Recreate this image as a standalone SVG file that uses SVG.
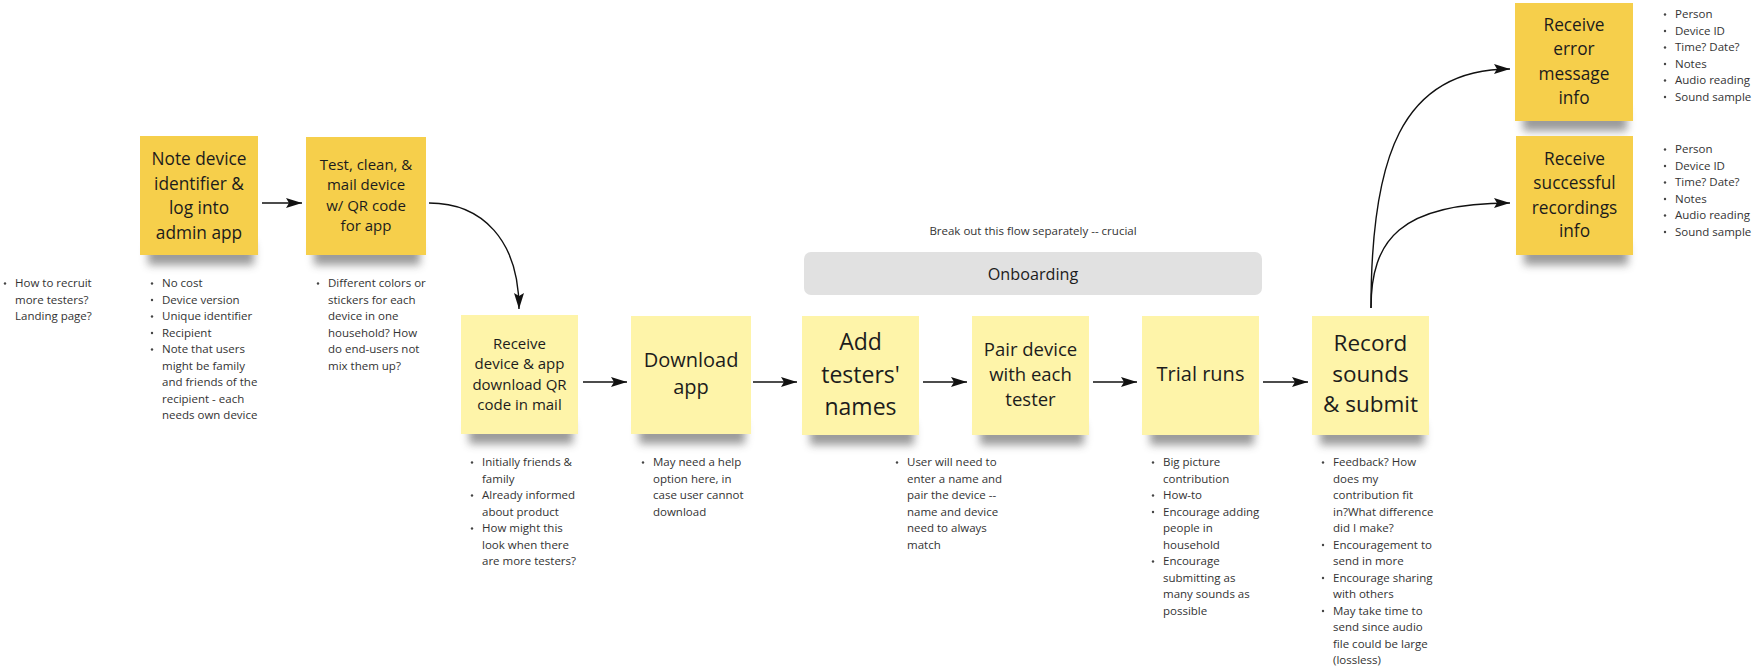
<svg xmlns="http://www.w3.org/2000/svg" width="1756" height="668" viewBox="0 0 1756 668">
<defs>
<style>
.sd{fill:#f6cf4b}
.sl{fill:#fef4a9}
.sh{fill:#4a4a4a;opacity:0.55;filter:url(#blur)}
.st{font-family:"Open Sans","Noto Sans",sans-serif;fill:#1c1c1c;text-anchor:middle}
.bt{font-family:"Open Sans","Noto Sans",sans-serif;font-size:11.5px;fill:#333}
.bd{fill:#444}
.cn{fill:none;stroke:#111;stroke-width:1.4;marker-end:url(#ah)}
</style>
<filter id="blur" x="-20%" y="-50%" width="140%" height="200%"><feGaussianBlur stdDeviation="4"/></filter>
<marker id="ah" markerUnits="userSpaceOnUse" markerWidth="17" markerHeight="10" refX="16" refY="5" orient="auto">
<path d="M0,0 L16,5 L0,10 L3,5 Z" fill="#111"/>
</marker>
</defs>
<rect width="1756" height="668" fill="#ffffff"/>

<g id="connectors">
<path class="cn" d="M262,203 L302,203"/>
<path class="cn" d="M429,203 C482,203 519,240 519,309"/>
<path class="cn" d="M583,382 L627,382"/>
<path class="cn" d="M753,382 L797,382"/>
<path class="cn" d="M923,382 L967,382"/>
<path class="cn" d="M1093,382 L1137,382"/>
<path class="cn" d="M1263,382 L1308,382"/>
<path class="cn" d="M1371,308 C1371,160 1400,69 1510,69"/>
<path class="cn" d="M1371,308 C1371,240 1400,203 1510,203"/>
</g>

<g id="note-recruit">
<circle class="bd" cx="5" cy="283.5" r="1.2"/>
<text class="bt"><tspan x="15" y="287">How to recruit</tspan><tspan x="15" y="303.5">more testers?</tspan><tspan x="15" y="320">Landing page?</tspan></text>
</g>

<g id="node-note-device">
<rect class="sh" x="148" y="243" width="106" height="22"/>
<rect class="sd" x="140" y="136" width="118" height="119"/>
<text class="st" font-size="17.3"><tspan x="199" y="165">Note device</tspan><tspan x="199" y="189.5">identifier &amp;</tspan><tspan x="199" y="214">log into</tspan><tspan x="199" y="238.5">admin app</tspan></text>
<g class="bullets">
<circle class="bd" cx="152" cy="462.5" r="1.2" transform="translate(0,-179)"/>
<circle class="bd" cx="152" cy="300" r="1.2"/>
<circle class="bd" cx="152" cy="316.5" r="1.2"/>
<circle class="bd" cx="152" cy="333" r="1.2"/>
<circle class="bd" cx="152" cy="349.5" r="1.2"/>
<text class="bt"><tspan x="162" y="287">No cost</tspan><tspan x="162" y="303.5">Device version</tspan><tspan x="162" y="320">Unique identifier</tspan><tspan x="162" y="336.5">Recipient</tspan><tspan x="162" y="353">Note that users</tspan><tspan x="162" y="369.5">might be family</tspan><tspan x="162" y="386">and friends of the</tspan><tspan x="162" y="402.5">recipient - each</tspan><tspan x="162" y="419">needs own device</tspan></text>
</g>
</g>

<g id="node-test-clean">
<rect class="sh" x="314" y="243" width="106" height="22"/>
<rect class="sd" x="306" y="137" width="120" height="118"/>
<text class="st" font-size="15"><tspan x="366" y="169.5">Test, clean, &amp;</tspan><tspan x="366" y="190">mail device</tspan><tspan x="366" y="210.5">w/ QR code</tspan><tspan x="366" y="231">for app</tspan></text>
<circle class="bd" cx="318" cy="283.5" r="1.2"/>
<text class="bt"><tspan x="328" y="287">Different colors or</tspan><tspan x="328" y="303.5">stickers for each</tspan><tspan x="328" y="320">device in one</tspan><tspan x="328" y="336.5">household? How</tspan><tspan x="328" y="353">do end-users not</tspan><tspan x="328" y="369.5">mix them up?</tspan></text>
</g>

<g id="node-receive-device">
<rect class="sh" x="469" y="422" width="104" height="22"/>
<rect class="sl" x="461" y="315" width="117" height="119"/>
<text class="st" font-size="15"><tspan x="519.5" y="348.5">Receive</tspan><tspan x="519.5" y="369">device &amp; app</tspan><tspan x="519.5" y="389.5">download QR</tspan><tspan x="519.5" y="410">code in mail</tspan></text>
<circle class="bd" cx="472" cy="462.5" r="1.2"/>
<circle class="bd" cx="472" cy="495.5" r="1.2"/>
<circle class="bd" cx="472" cy="528.5" r="1.2"/>
<text class="bt"><tspan x="482" y="466">Initially friends &amp;</tspan><tspan x="482" y="482.5">family</tspan><tspan x="482" y="499">Already informed</tspan><tspan x="482" y="515.5">about product</tspan><tspan x="482" y="532">How might this</tspan><tspan x="482" y="548.5">look when there</tspan><tspan x="482" y="565">are more testers?</tspan></text>
</g>

<g id="node-download-app">
<rect class="sh" x="639" y="422" width="106" height="22"/>
<rect class="sl" x="631" y="316" width="120" height="118"/>
<text class="st" font-size="20"><tspan x="691" y="367">Download</tspan><tspan x="691" y="394">app</tspan></text>
<circle class="bd" cx="643" cy="462.5" r="1.2"/>
<text class="bt"><tspan x="653" y="466">May need a help</tspan><tspan x="653" y="482.5">option here, in</tspan><tspan x="653" y="499">case user cannot</tspan><tspan x="653" y="515.5">download</tspan></text>
</g>

<g id="node-add-testers">
<rect class="sh" x="810" y="423" width="104" height="22"/>
<rect class="sl" x="802" y="316" width="117" height="119"/>
<text class="st" font-size="23"><tspan x="860.5" y="350">Add</tspan><tspan x="860.5" y="382.5">testers'</tspan><tspan x="860.5" y="415">names</tspan></text>
<circle class="bd" cx="897" cy="462.5" r="1.2"/>
<text class="bt"><tspan x="907" y="466">User will need to</tspan><tspan x="907" y="482.5">enter a name and</tspan><tspan x="907" y="499">pair the device --</tspan><tspan x="907" y="515.5">name and device</tspan><tspan x="907" y="532">need to always</tspan><tspan x="907" y="548.5">match</tspan></text>
</g>

<g id="node-pair-device">
<rect class="sh" x="980" y="423" width="104" height="22"/>
<rect class="sl" x="972" y="316" width="117" height="119"/>
<text class="st" font-size="18.5"><tspan x="1030.5" y="355.5">Pair device</tspan><tspan x="1030.5" y="380.5">with each</tspan><tspan x="1030.5" y="405.5">tester</tspan></text>
</g>

<g id="node-trial-runs">
<rect class="sh" x="1150" y="423" width="104" height="22"/>
<rect class="sl" x="1142" y="316" width="117" height="119"/>
<text class="st" font-size="20"><tspan x="1200.5" y="381">Trial runs</tspan></text>
<circle class="bd" cx="1153" cy="462.5" r="1.2"/>
<circle class="bd" cx="1153" cy="495.5" r="1.2"/>
<circle class="bd" cx="1153" cy="512" r="1.2"/>
<circle class="bd" cx="1153" cy="561.5" r="1.2"/>
<text class="bt"><tspan x="1163" y="466">Big picture</tspan><tspan x="1163" y="482.5">contribution</tspan><tspan x="1163" y="499">How-to</tspan><tspan x="1163" y="515.5">Encourage adding</tspan><tspan x="1163" y="532">people in</tspan><tspan x="1163" y="548.5">household</tspan><tspan x="1163" y="565">Encourage</tspan><tspan x="1163" y="581.5">submitting as</tspan><tspan x="1163" y="598">many sounds as</tspan><tspan x="1163" y="614.5">possible</tspan></text>
</g>

<g id="node-record-sounds">
<rect class="sh" x="1320" y="423" width="104" height="22"/>
<rect class="sl" x="1312" y="316" width="117" height="119"/>
<text class="st" font-size="22.5"><tspan x="1370.5" y="351">Record</tspan><tspan x="1370.5" y="381.5">sounds</tspan><tspan x="1370.5" y="412">&amp; submit</tspan></text>
<circle class="bd" cx="1323" cy="462.5" r="1.2"/>
<circle class="bd" cx="1323" cy="545" r="1.2"/>
<circle class="bd" cx="1323" cy="578" r="1.2"/>
<circle class="bd" cx="1323" cy="611" r="1.2"/>
<text class="bt"><tspan x="1333" y="466">Feedback? How</tspan><tspan x="1333" y="482.5">does my</tspan><tspan x="1333" y="499">contribution fit</tspan><tspan x="1333" y="515.5">in?What difference</tspan><tspan x="1333" y="532">did I make?</tspan><tspan x="1333" y="548.5">Encouragement to</tspan><tspan x="1333" y="565">send in more</tspan><tspan x="1333" y="581.5">Encourage sharing</tspan><tspan x="1333" y="598">with others</tspan><tspan x="1333" y="614.5">May take time to</tspan><tspan x="1333" y="631">send since audio</tspan><tspan x="1333" y="647.5">file could be large</tspan><tspan x="1333" y="664">(lossless)</tspan></text>
</g>

<g id="node-error-info">
<rect class="sh" x="1523" y="109" width="104" height="22"/>
<rect class="sd" x="1515" y="3" width="118" height="118"/>
<text class="st" font-size="17.3"><tspan x="1574" y="30.5">Receive</tspan><tspan x="1574" y="55">error</tspan><tspan x="1574" y="79.5">message</tspan><tspan x="1574" y="104">info</tspan></text>
<circle class="bd" cx="1665" cy="14.5" r="1.2"/>
<circle class="bd" cx="1665" cy="31" r="1.2"/>
<circle class="bd" cx="1665" cy="47.5" r="1.2"/>
<circle class="bd" cx="1665" cy="64" r="1.2"/>
<circle class="bd" cx="1665" cy="80.5" r="1.2"/>
<circle class="bd" cx="1665" cy="97" r="1.2"/>
<text class="bt"><tspan x="1675" y="18">Person</tspan><tspan x="1675" y="34.5">Device ID</tspan><tspan x="1675" y="51">Time? Date?</tspan><tspan x="1675" y="67.5">Notes</tspan><tspan x="1675" y="84">Audio reading</tspan><tspan x="1675" y="100.5">Sound sample</tspan></text>
</g>

<g id="node-success-info">
<rect class="sh" x="1524" y="243" width="104" height="22"/>
<rect class="sd" x="1516" y="136" width="117" height="119"/>
<text class="st" font-size="17.3"><tspan x="1574.5" y="164.5">Receive</tspan><tspan x="1574.5" y="189">successful</tspan><tspan x="1574.5" y="213.5">recordings</tspan><tspan x="1574.5" y="237">info</tspan></text>
<circle class="bd" cx="1665" cy="149.5" r="1.2"/>
<circle class="bd" cx="1665" cy="166" r="1.2"/>
<circle class="bd" cx="1665" cy="182.5" r="1.2"/>
<circle class="bd" cx="1665" cy="199" r="1.2"/>
<circle class="bd" cx="1665" cy="215.5" r="1.2"/>
<circle class="bd" cx="1665" cy="232" r="1.2"/>
<text class="bt"><tspan x="1675" y="153">Person</tspan><tspan x="1675" y="169.5">Device ID</tspan><tspan x="1675" y="186">Time? Date?</tspan><tspan x="1675" y="202.5">Notes</tspan><tspan x="1675" y="219">Audio reading</tspan><tspan x="1675" y="235.5">Sound sample</tspan></text>
</g>

<g id="onboarding">
<text class="bt" x="1033" y="235" text-anchor="middle">Break out this flow separately -- crucial</text>
<rect x="804" y="252" width="458" height="43" rx="7" fill="#e1e1e1"/>
<text class="st" font-size="16.2" x="1033" y="279.5">Onboarding</text>
</g>
</svg>
